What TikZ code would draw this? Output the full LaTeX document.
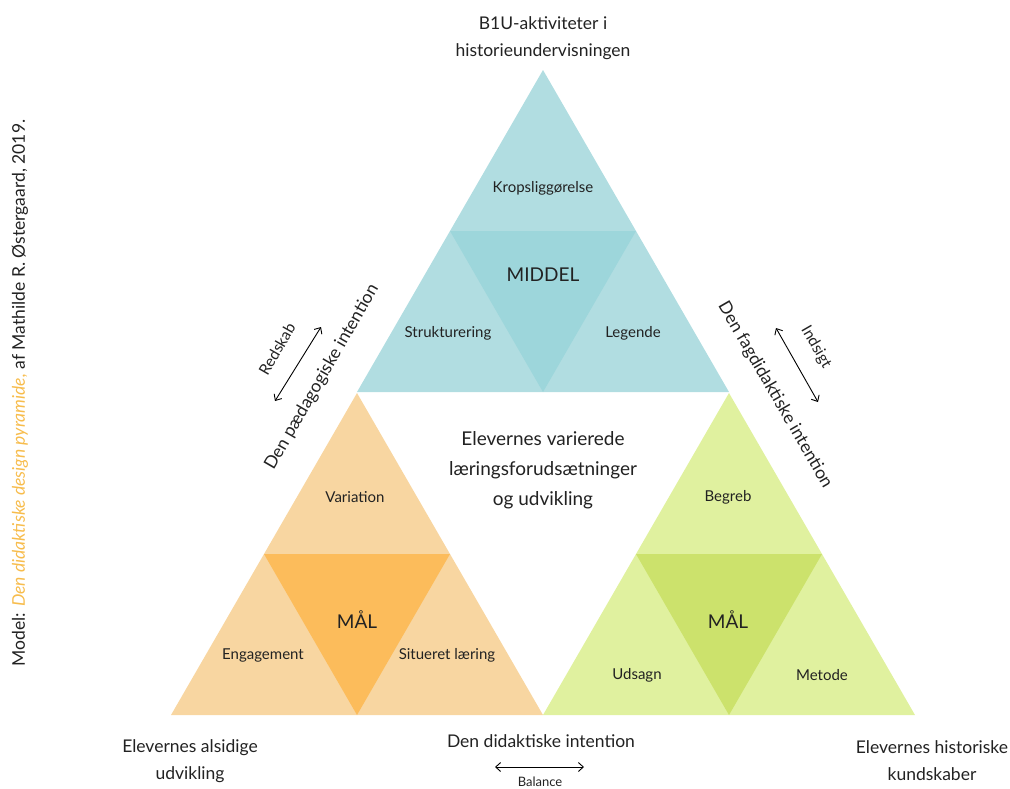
\documentclass[tikz,border=0pt]{standalone}
\usepackage{fontspec}
\setmainfont{Lato}
\usetikzlibrary{calc,positioning,arrows.meta}
\definecolor{middelud}{HTML}{B1DDE1}
\definecolor{middelind}{HTML}{9DD6DB}
\definecolor{maalud}{HTML}{F8D6A1}
\definecolor{maalind}{HTML}{FCBC5B}
\definecolor{videnud}{HTML}{E0F19F}
\definecolor{videnind}{HTML}{CCE26C}
\definecolor{tekstgraa}{HTML}{222222}
\definecolor{modelorange}{HTML}{F7BC4C}
\newcommand{\pyramid}[3]{\fill[#2] (#1) -- ++(-186,322) -- ++(372,0) -- cycle;
\fill[#3] ($(#1)+(-93,161)$) -- ++(186,0) -- ++(-93,161) -- cycle;}
\tikzstyle{every node}=[text=tekstgraa, inner sep=0, outer sep=0, align=center]
\tikzstyle{felt}=[font=\fontsize{15}{18}\selectfont]
\tikzstyle{maal}=[font=\fontsize{19}{22}\selectfont]
\tikzstyle{titel}=[font=\fontsize{17.5}{27}\selectfont]
\tikzstyle{midt}=[font=\fontsize{19}{30}\selectfont]
\tikzstyle{lille}=[font=\fontsize{15.5}{18}\selectfont]

\begin{document}
\begin{tikzpicture}[x=1pt, y=-1pt, >={Straight Barb[length=5pt,width=9pt]}]
\useasboundingbox (0,0) rectangle (1010,788);
\coordinate (top) at (543, 70);
\coordinate (venstre) at (357, 393);
\coordinate (hoejre) at (729, 393);

\foreach \p/\ud/\ind in {top/middelud/middelind, venstre/maalud/maalind, hoejre/videnud/videnind}
{
\pyramid{\p}{\ud}{\ind}
}

\node[titel] (biu) at (543, 38) {B1U-aktiviteter i\\historieundervisningen};
\node[felt] (krop) at (543, 188) {Kropsliggørelse};
\node[maal] (middel) at (543, 275) {MIDDEL};
\node[felt] (struk) at (448, 333) {Strukturering};
\node[felt] (legende) at (633, 333) {Legende};

\node[felt] (variation) at (355, 497) {Variation};
\node[maal] (maalV) at (357, 620) {MÅL};
\node[felt] (engagement) at (263, 655) {Engagement};
\node[felt] (situeret) at (447, 655) {Situeret læring};

\node[felt] (begreb) at (728, 497) {Begreb};
\node[maal] (maalH) at (728, 620) {MÅL};
\node[felt] (udsagn) at (637, 675) {Udsagn};
\node[felt] (metode) at (822, 675) {Metode};

\node[midt] (elever) at (543, 470) {Elevernes varierede\\læringsforudsætninger\\og udvikling};

\node[titel] (alsidig) at (190, 761) {Elevernes alsidige\\udvikling};
\node[titel] (historisk) at (932, 761) {Elevernes historiske\\kundskaber};
\node[titel] (didaktisk) at (541, 741) {Den didaktiske intention};
\coordinate (balA) at (495, 767);
\coordinate (balB) at (584, 767);
\draw[<->, line width=.9pt] (balA) -- (balB);
\node[font=\fontsize{13}{15}\selectfont] (balance) at (540, 782) {Balance};

% skraa tekster
\node[titel, rotate=60] (paed) at (322, 377) {Den pædagogiske intention};
\node[lille, rotate=60] (redskab) at (277, 349) {Redskab};
\coordinate (redA) at (275, 401);
\coordinate (redB) at (321, 327);
\draw[<->, line width=.9pt] (redA) -- (redB);

\node[titel, rotate=-60] (fag) at (775, 395) {Den fagdidaktiske intention};
\node[lille, rotate=-60] (indsigt) at (816, 347) {Indsigt};
\coordinate (indA) at (776, 328);
\coordinate (indB) at (818, 402);
\draw[<->, line width=.9pt] (indA) -- (indB);

\node[titel, rotate=90] (kilde) at (20, 393) {Model: {\color{modelorange}\itshape Den didaktiske design pyramide,} af Mathilde R. Østergaard, 2019.};
\end{tikzpicture}
\end{document}
